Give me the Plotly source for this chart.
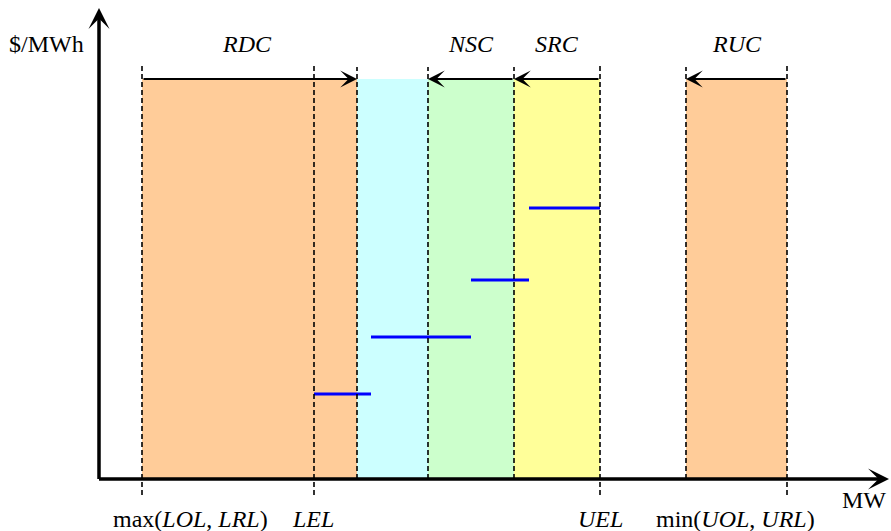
import plotly.graph_objects as go

# Schematic MW positions (arbitrary units, axis origin at 0)
bound_names = ["max(<i>LOL</i>, <i>LRL</i>)", "<i>LEL</i>", "<i>UEL</i>", "min(<i>UOL</i>, <i>URL</i>)"]
bound_mw = [43, 215, 501, 688]
label_mw = [91, 214, 501, 636.5]

inner_mw = [258, 329, 415, 587]  # RDC end, NSC start, SRC start, RUC start

band_left = [43, 258, 329, 415, 587]
band_right = [258, 329, 415, 501, 688]
band_colors = ["#FFCC99", "#CCFFFF", "#CCFFCC", "#FFFF99", "#FFCC99"]
band_top = 400

# Range arrows: (tail, head)
range_names = ["<i>RDC</i>", "<i>NSC</i>", "<i>SRC</i>", "<i>RUC</i>"]
range_tail = [43, 415, 501, 688]
range_head = [258, 329, 415, 587]
range_label_mw = [148, 372, 458, 638]

# Offer curve steps ($/MWh)
step_start = [215, 272, 372, 430]
step_end = [272, 372, 430, 501]
step_price = [85, 142, 199, 271]

FONT = "Liberation Serif, Times New Roman, serif"
FS = 24

fig = go.Figure()

# Price steps
for s, e, p in zip(step_start, step_end, step_price):
    fig.add_trace(go.Scatter(x=[s, e], y=[p, p], mode="lines",
                             line=dict(color="#0000FF", width=3),
                             showlegend=False, hoverinfo="skip"))

shapes = []
for l, r, c in zip(band_left, band_right, band_colors):
    shapes.append(dict(type="rect", xref="x", yref="y", x0=l, x1=r, y0=0, y1=band_top,
                       fillcolor=c, line=dict(width=0), layer="below"))
for xm in bound_mw:
    shapes.append(dict(type="line", xref="x", yref="y", x0=xm, x1=xm, y0=-16, y1=416,
                       line=dict(color="black", width=1.6, dash="5px,3px"), layer="above"))
for xm in inner_mw:
    shapes.append(dict(type="line", xref="x", yref="y", x0=xm, x1=xm, y0=0, y1=412,
                       line=dict(color="black", width=1.6, dash="5px,3px"), layer="above"))

annotations = []
# Axes arrows
annotations.append(dict(x=0, y=471, ax=0, ay=-1.5, xref="x", yref="y", axref="x", ayref="y",
                        text="", showarrow=True, arrowhead=3, arrowwidth=3.5, arrowsize=1.0,
                        arrowcolor="black", standoff=0, startstandoff=0))
annotations.append(dict(x=790, y=0, ax=-1.5, ay=0, xref="x", yref="y", axref="x", ayref="y",
                        text="", showarrow=True, arrowhead=3, arrowwidth=3.5, arrowsize=1.0,
                        arrowcolor="black", standoff=0, startstandoff=0))
# Range arrows
for t, h in zip(range_tail, range_head):
    annotations.append(dict(x=h, y=band_top, ax=t, ay=band_top, xref="x", yref="y",
                            axref="x", ayref="y", text="", showarrow=True, arrowhead=3,
                            arrowwidth=2, arrowsize=1.4, arrowcolor="black",
                            standoff=0, startstandoff=0))
# Range labels
for name, xm in zip(range_names, range_label_mw):
    annotations.append(dict(x=xm, y=435, xref="x", yref="y", text=name, showarrow=False,
                            font=dict(family=FONT, size=FS, color="black")))
# Axis titles
annotations.append(dict(x=-53, y=435, xref="x", yref="y", text="$/MWh", showarrow=False,
                        font=dict(family=FONT, size=FS, color="black")))
annotations.append(dict(x=765, y=-21, xref="x", yref="y", text="MW", showarrow=False,
                        font=dict(family=FONT, size=FS, color="black")))
# Bound labels
for name, xm in zip(bound_names, label_mw):
    annotations.append(dict(x=xm, y=-40, xref="x", yref="y", text=name, showarrow=False,
                            font=dict(family=FONT, size=FS, color="black")))

fig.update_layout(
    width=891, height=531,
    margin=dict(l=0, r=0, t=0, b=0),
    paper_bgcolor="white", plot_bgcolor="white",
    xaxis=dict(range=[-99, 792], visible=False, fixedrange=True),
    yaxis=dict(range=[-52, 479], visible=False, fixedrange=True),
    shapes=shapes, annotations=annotations, showlegend=False,
)

fig.write_html("out.html", config={"displayModeBar": False},
               post_script="document.body.style.margin='0';document.body.style.overflow='hidden';")
